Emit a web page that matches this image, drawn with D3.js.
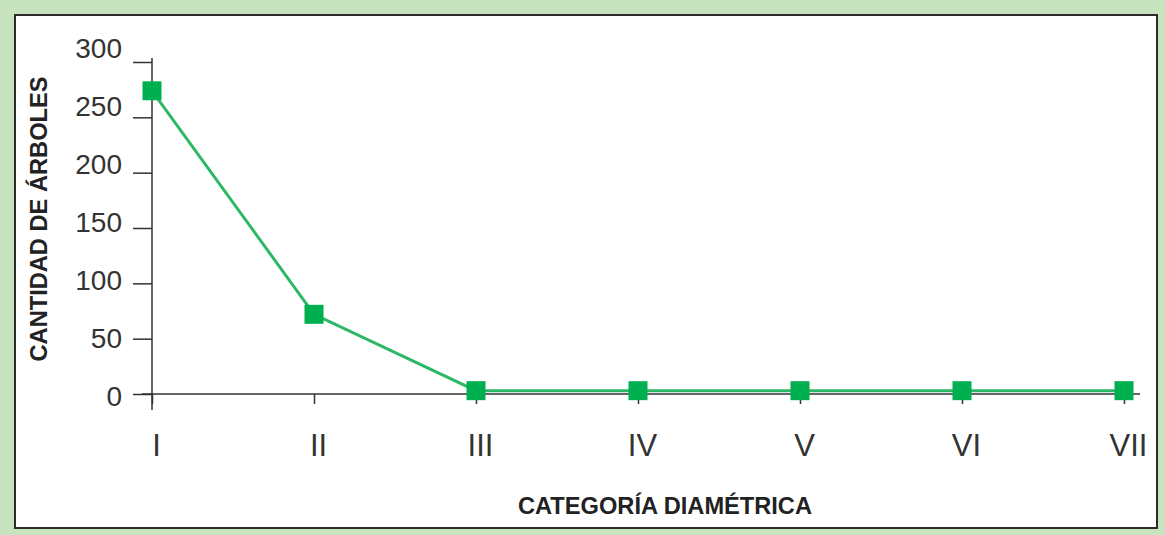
<!DOCTYPE html>
<html><head><meta charset="utf-8">
<script src="https://cdn.jsdelivr.net/npm/d3@7"></script>
<style>html,body{margin:0;padding:0;background:#c8e4bf;}svg{display:block;}</style>
</head><body>
<svg id="c" width="1165" height="535"></svg>
<script>
const categories = ["I","II","III","IV","V","VI","VII"];
const values = [274, 72, 3, 3, 3, 3, 3];
const yTicks = [0, 50, 100, 150, 200, 250, 300];
const xTitle = "CATEGORÍA DIAMÉTRICA";
const yTitle = "CANTIDAD DE ÁRBOLES";

const svg = d3.select("#c");
svg.append("rect").attr("x",0).attr("y",0).attr("width",1165).attr("height",535).attr("fill","#c8e4bf");
svg.append("rect").attr("x",15).attr("y",15).attr("width",1142).attr("height",513)
  .attr("fill","#ffffff").attr("stroke","#2b2b2b").attr("stroke-width",2);

const x = d3.scalePoint().domain(categories).range([152,1124]);
const y = d3.scaleLinear().domain([0,300]).range([394,62]);
// tick labels in the reference are spaced slightly wider than the ticks
const yLab = d3.scaleLinear().domain([0,300]).range([396,48]);

// y axis
const ya = svg.append("g").attr("transform","translate(152,0)")
  .call(d3.axisLeft(y).tickValues(yTicks).tickSize(19).tickPadding(11).tickFormat(d3.format("d")));
ya.select(".domain").remove();
ya.selectAll(".tick line").attr("stroke","#333").attr("stroke-width",1.5);
ya.selectAll(".tick text").attr("fill","#333").style("font-family","'Liberation Sans',Arial,sans-serif")
  .style("font-size","28px").attr("dy","0.35em")
  .attr("y", d => yLab(d) - y(d));
ya.append("line").attr("x1",0).attr("x2",0).attr("y1",y(300)-4).attr("y2",y(0)+16)
  .attr("stroke","#333").attr("stroke-width",1.5);

// x axis
const xa = svg.append("g").attr("transform",`translate(0,${y(0)})`)
  .call(d3.axisBottom(x).tickSize(10).tickPadding(30));
xa.select(".domain").remove();
xa.append("line").attr("x1",142).attr("x2",1140).attr("y1",0).attr("y2",0)
  .attr("stroke","#333").attr("stroke-width",1.5);
xa.selectAll(".tick line").attr("stroke","#333").attr("stroke-width",1.5);
xa.selectAll(".tick text").attr("fill","#333").style("font-family","'Liberation Sans',Arial,sans-serif")
  .style("font-size","31px").attr("dx","4px");

// line
const data = categories.map((c,i)=>({c, v: values[i]}));
svg.append("path").datum(data)
  .attr("fill","none").attr("stroke","#2cb865").attr("stroke-width",3)
  .attr("d", d3.line().x(d=>x(d.c)).y(d=>y(d.v)));
const ms = 19;
svg.selectAll("rect.m").data(data).enter().append("rect").attr("class","m")
  .attr("x",d=>x(d.c)-ms/2).attr("y",d=>y(d.v)-ms/2).attr("width",ms).attr("height",ms)
  .attr("fill","#00b050");

// titles
svg.append("text").attr("x",665).attr("y",514).attr("text-anchor","middle")
  .attr("textLength",294).attr("lengthAdjust","spacingAndGlyphs")
  .style("font-family","'Liberation Sans',Arial,sans-serif").style("font-weight","bold")
  .style("font-size","24px").attr("fill","#222").text(xTitle);
svg.append("text").attr("transform","translate(47,219) rotate(-90)").attr("text-anchor","middle")
  .attr("textLength",285).attr("lengthAdjust","spacingAndGlyphs")
  .style("font-family","'Liberation Sans',Arial,sans-serif").style("font-weight","bold")
  .style("font-size","24px").attr("fill","#222").text(yTitle);
</script>
</body></html>
